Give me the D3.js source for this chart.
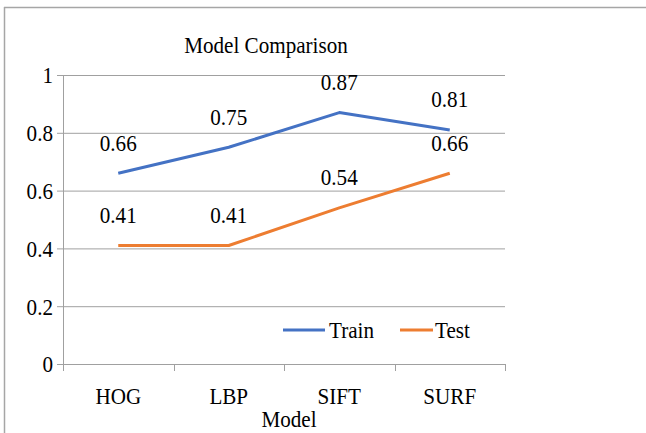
<!DOCTYPE html>
<html>
<head>
<meta charset="utf-8">
<script src="https://cdn.jsdelivr.net/npm/d3@7"></script>
<style>
  html, body { margin: 0; padding: 0; background: #fff; overflow: hidden; }
  svg { display: block; }
  text { font-family: "Liberation Serif", serif; fill: #000; }
</style>
</head>
<body>
<div id="chart"></div>
<script>
// Data
var models = ["HOG", "LBP", "SIFT", "SURF"];
var train = [0.66, 0.75, 0.87, 0.81];
var test = [0.41, 0.41, 0.54, 0.66];
var yTicks = [0, 0.2, 0.4, 0.6, 0.8, 1];

var W = 646, H = 433;
var plotLeft = 63, plotRight = 505, plotTop = 75, plotBottom = 364;
var fontSize = "24px";

var svg = d3.select("#chart").append("svg")
    .attr("width", W)
    .attr("height", H);

// text squeezed a little horizontally, like the reference
function addText(g, tx, ty) {
    return g.append("text")
        .attr("transform", "translate(" + tx + "," + ty + ") scale(0.88,1)")
        .style("font-size", fontSize);
}

// outer chart border: top and left edges only
svg.append("line")
    .attr("x1", 4).attr("x2", W + 10)
    .attr("y1", 7.5).attr("y2", 7.5)
    .attr("stroke", "#a6a6a6").attr("stroke-width", 1.5);
svg.append("line")
    .attr("x1", 4.5).attr("x2", 4.5)
    .attr("y1", 7).attr("y2", H + 10)
    .attr("stroke", "#a6a6a6").attr("stroke-width", 1.5);

var x = d3.scaleBand().domain(models).range([plotLeft, plotRight]);
var y = d3.scaleLinear().domain([0, 1]).range([plotBottom, plotTop]);

// gridlines
svg.append("g")
    .selectAll("line")
    .data(yTicks)
    .enter().append("line")
    .attr("x1", plotLeft - 6).attr("x2", plotRight)
    .attr("y1", function (d) { return y(d) + 0.5; })
    .attr("y2", function (d) { return y(d) + 0.5; })
    .attr("stroke", "#a0a0a0")
    .attr("stroke-width", 1);

// y axis line
svg.append("line")
    .attr("x1", plotLeft + 0.5).attr("x2", plotLeft + 0.5)
    .attr("y1", plotTop).attr("y2", plotBottom)
    .attr("stroke", "#a0a0a0");

// y tick labels
yTicks.forEach(function (t) {
    addText(svg, 53, y(t))
        .attr("dy", "0.35em")
        .attr("text-anchor", "end")
        .text(d3.format("")(t));
});

// x axis tick marks at band edges
var edges = models.map(function (m) { return x(m); }).concat([plotRight]);
svg.append("g")
    .selectAll("line")
    .data(edges)
    .enter().append("line")
    .attr("x1", function (d) { return Math.round(d) + 0.5; })
    .attr("x2", function (d) { return Math.round(d) + 0.5; })
    .attr("y1", plotBottom).attr("y2", plotBottom + 7)
    .attr("stroke", "#a0a0a0");

// x labels
models.forEach(function (m) {
    addText(svg, x(m) + x.bandwidth() / 2, 404)
        .attr("text-anchor", "middle")
        .text(m);
});

// axis title
addText(svg, 289, 427).attr("text-anchor", "middle").text("Model");

// chart title
addText(svg, 266, 53).attr("text-anchor", "middle").text("Model Comparison");

var line = d3.line()
    .x(function (d, i) { return x(models[i]) + x.bandwidth() / 2; })
    .y(function (d) { return y(d); });

var series = [
    { name: "Train", values: train, color: "#4472C4" },
    { name: "Test", values: test, color: "#ED7D31" }
];

series.forEach(function (s) {
    svg.append("path")
        .datum(s.values)
        .attr("d", line)
        .attr("fill", "none")
        .attr("stroke", s.color)
        .attr("stroke-width", 3)
        .attr("stroke-linejoin", "round");

    s.values.forEach(function (v, i) {
        addText(svg, x(models[i]) + x.bandwidth() / 2, y(v) - 31)
            .attr("dy", "0.35em")
            .attr("text-anchor", "middle")
            .text(v);
    });
});

// legend
var legendPos = [{ x1: 283, x2: 325, tx: 329 }, { x1: 400, x2: 433, tx: 435 }];
series.forEach(function (s, i) {
    var p = legendPos[i];
    svg.append("line")
        .attr("x1", p.x1).attr("x2", p.x2)
        .attr("y1", 330).attr("y2", 330)
        .attr("stroke", s.color)
        .attr("stroke-width", 3);
    addText(svg, p.tx, 330)
        .attr("dy", "0.35em")
        .text(s.name);
});
</script>
</body>
</html>
